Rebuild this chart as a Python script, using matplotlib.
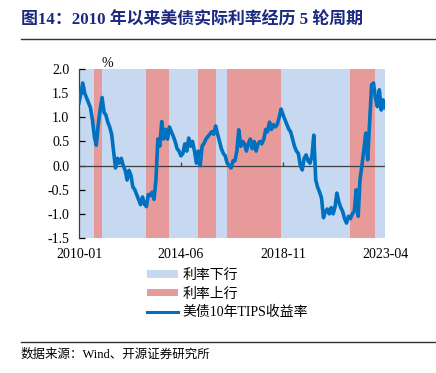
import numpy as np
import pandas as pd
import matplotlib
matplotlib.use("Agg")
import matplotlib.pyplot as plt
from matplotlib.lines import Line2D
from matplotlib.patches import Patch

plt.rcParams['font.family'] = ['Liberation Serif', 'Noto Sans CJK SC']
plt.rcParams['axes.unicode_minus'] = False

# 10y TIPS yield, monthly from 2010-01 to 2023-04 (%)
tips_yield = [
    1.30, 1.50, 1.71, 1.50, 1.40, 1.30, 1.20, 0.95, 0.60, 0.42, 0.85, 1.15,
    1.41, 1.10, 1.05, 0.90, 0.80, 0.65, 0.30, -0.05, 0.15, 0.05, 0.15, 0.00,
    -0.10, -0.30, -0.10, -0.20, -0.44, -0.50, -0.60, -0.70, -0.81, -0.65, -0.80, -0.85,
    -0.60, -0.62, -0.55, -0.70, -0.30, 0.55, 0.40, 0.91, 0.55, 0.75, 0.55, 0.80,
    0.70, 0.60, 0.50, 0.35, 0.30, 0.20, 0.25, 0.45, 0.30, 0.57, 0.40, 0.50,
    0.30, 0.05, 0.30, 0.00, 0.40, 0.46, 0.55, 0.60, 0.65, 0.70, 0.65, 0.82,
    0.65, 0.50, 0.35, 0.25, 0.20, 0.05, 0.00, -0.05, 0.10, 0.10, 0.30, 0.74,
    0.40, 0.50, 0.45, 0.30, 0.45, 0.55, 0.35, 0.50, 0.30, 0.45, 0.50, 0.45,
    0.55, 0.75, 0.70, 0.90, 0.75, 0.85, 0.80, 0.85, 1.00, 1.17, 1.05, 0.95,
    0.85, 0.75, 0.70, 0.55, 0.40, 0.30, 0.25, 0.00, -0.09, 0.15, 0.22, 0.10,
    0.05, 0.20, 0.63, -0.30, -0.45, -0.55, -0.67, -1.08, -0.95, -0.90, -1.00, -0.87,
    -1.00, -0.85, -0.57, -0.75, -0.87, -0.95, -1.10, -1.19, -1.05, -1.10, -1.00, -0.95,
    -0.50, -1.05, -0.30, 0.00, 0.32, 0.67, 0.12, 0.88, 1.67, 1.71, 1.40, 1.22,
    1.57, 1.15, 1.36, 1.20,
]
dates = pd.date_range("2010-01-01", periods=len(tips_yield), freq="MS")

# rate cycles: (start, end)
falling = [("2010-01", "2010-09"), ("2011-01", "2012-12"), ("2013-12", "2015-03"),
           ("2015-12", "2016-06"), ("2018-10", "2021-10"), ("2022-11", "2023-04")]
rising = [("2010-09", "2011-01"), ("2012-12", "2013-12"), ("2015-03", "2015-12"),
          ("2016-06", "2018-10"), ("2021-10", "2022-11")]

xtick_labels = ["2010-01", "2014-06", "2018-11", "2023-04"]
yticks = [-1.5, -1.0, -0.5, 0.0, 0.5, 1.0, 1.5, 2.0]

blue_bg = "#C6D9F0"
red_bg = "#E69A9A"
line_c = "#0070C0"

fig = plt.figure(figsize=(4.36, 3.73), dpi=100)
ax = fig.add_axes([79 / 436, 1 - 238 / 373, 306 / 436, 169 / 373])

for s, e in falling:
    ax.axvspan(pd.Timestamp(s), pd.Timestamp(e), color=blue_bg, lw=0)
for s, e in rising:
    ax.axvspan(pd.Timestamp(s), pd.Timestamp(e), color=red_bg, lw=0)

ax.axhline(0, color="#404040", lw=0.9, zorder=2)
tick_dates = [pd.Timestamp(t) for t in xtick_labels]
ax.vlines(tick_dates[1:], 0, 0.08, color="#404040", lw=0.9, zorder=2)

ax.plot(dates, tips_yield, color=line_c, lw=2.6, zorder=3)

ax.set_xlim(pd.Timestamp("2010-01-01"), pd.Timestamp("2023-04-01"))
ax.set_ylim(-1.5, 2.0)
ax.set_yticks(yticks)
ax.set_yticklabels([f"{v:.1f}" for v in yticks])
ax.set_xticks(tick_dates)
ax.set_xticklabels(xtick_labels)
ax.tick_params(axis="y", direction="in", length=4, width=0.9, pad=7, labelsize=10)
ax.tick_params(axis="x", length=0, pad=7, labelsize=10)
for sp in ["top", "right", "bottom"]:
    ax.spines[sp].set_visible(False)
ax.spines["left"].set_color("#404040")
ax.spines["left"].set_linewidth(0.9)

ax.text(0.092, 1.035, "%", transform=ax.transAxes, ha="center", va="center", fontsize=10)

handles = [Patch(color=blue_bg, lw=0), Patch(color=red_bg, lw=0),
           Line2D([], [], color=line_c, lw=2.2)]
labels = ["利率下行", "利率上行", "美债10年TIPS收益率"]
fig.legend(handles, labels, loc="center left", bbox_to_anchor=(147 / 436, 1 - 294 / 373),
           frameon=False, fontsize=10, handlelength=2.2, handleheight=0.5,
           handletextpad=0.35, labelspacing=0.4, borderpad=0, borderaxespad=0)

fig.text(21 / 436, 1 - 20 / 373, "图14：2010 年以来美债实际利率经历 5 轮周期",
         fontsize=12.2, fontweight="bold", color="#1B2A80", va="center", ha="left")
fig.add_artist(Line2D([21 / 436, 1.0], [1 - 39 / 373] * 2, color="#333333", lw=1))
fig.add_artist(Line2D([21 / 436, 1.0], [1 - 342 / 373] * 2, color="#333333", lw=1))
fig.text(21 / 436, 1 - 355 / 373, "数据来源：Wind、开源证券研究所",
         fontsize=9, va="center", ha="left")

fig.savefig("out.png", dpi=100)
